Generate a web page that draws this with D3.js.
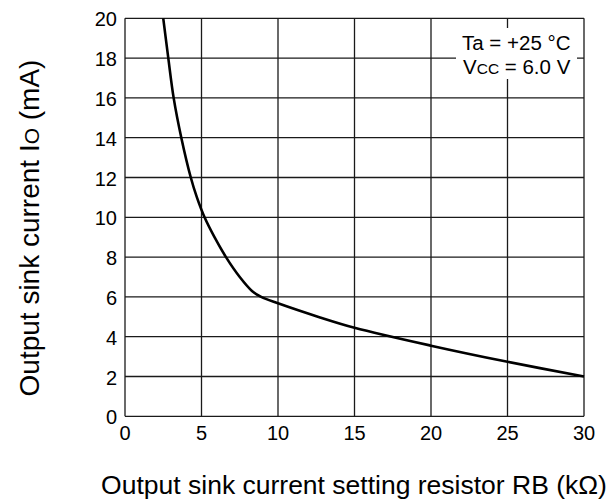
<!DOCTYPE html>
<html>
<head>
<meta charset="utf-8">
<script src="https://cdn.jsdelivr.net/npm/d3@7"></script>
<style>
  body { margin: 0; background: #fff; }
  text { font-family: "Liberation Sans", Arial, sans-serif; fill: #000; }
</style>
</head>
<body>
<div id="chart"></div>
<script>
// curve: resistor RB (kOhm) vs sink current IO (mA)
const resistance = [2.5, 2.83, 3.18, 3.68, 4.3, 4.7, 5.2, 5.85, 6.6, 7.5, 8.3, 8.9, 10, 12.75, 15, 20, 25, 30];
const current = [20, 18, 16, 14, 12, 11, 10, 9, 8, 7, 6.3, 6, 5.68, 4.97, 4.45, 3.55, 2.74, 2.0];
const xTicks = [0, 5, 10, 15, 20, 25, 30];
const yTicks = [0, 2, 4, 6, 8, 10, 12, 14, 16, 18, 20];
const noteLines = ['Ta = +25 °C', 'Vcc = 6.0 V'];

const W = 610, H = 502;
const margin = { top: 18.3, right: 26, bottom: 85.7, left: 125 };

const svg = d3.select('#chart').append('svg')
  .attr('width', W)
  .attr('height', H);

const x = d3.scaleLinear().domain([0, 30]).range([margin.left, W - margin.right]);
const y = d3.scaleLinear().domain([0, 20]).range([H - margin.bottom, margin.top]);

const gridColor = '#1a1a1a';

// grid (also forms the frame)
svg.append('g').selectAll('line').data(xTicks).join('line')
  .attr('x1', d => x(d)).attr('x2', d => x(d))
  .attr('y1', y(0)).attr('y2', y(20))
  .attr('stroke', gridColor).attr('stroke-width', 1.3);

svg.append('g').selectAll('line').data(yTicks).join('line')
  .attr('x1', x(0)).attr('x2', x(30))
  .attr('y1', d => y(d)).attr('y2', d => y(d))
  .attr('stroke', gridColor).attr('stroke-width', 1.3);

// tick labels
svg.append('g').selectAll('text').data(xTicks).join('text')
  .attr('x', d => x(d))
  .attr('y', y(0) + 24)
  .attr('text-anchor', 'middle')
  .style('font-size', '20px')
  .text(d => d);

svg.append('g').selectAll('text').data(yTicks).join('text')
  .attr('x', x(0) - 8)
  .attr('y', d => y(d) + 8)
  .attr('text-anchor', 'end')
  .style('font-size', '20px')
  .text(d => d);

// condition note, white box hides the grid behind it
svg.append('rect')
  .attr('x', 456).attr('y', 28)
  .attr('width', 121).attr('height', 51)
  .attr('fill', '#fff');

const note1 = svg.append('text').attr('x', 462).attr('y', 49.5).style('font-size', '20.5px');
note1.text(noteLines[0]);

const note2 = svg.append('text').attr('x', 463).attr('y', 73.5).style('font-size', '20.5px');
note2.append('tspan').text('V');
note2.append('tspan').style('font-size', '15.5px').text('CC');
note2.append('tspan').text(noteLines[1].slice(3));

// the curve
const pts = resistance.map((r, i) => [r, current[i]]);
const line = d3.line()
  .x(d => x(d[0]))
  .y(d => y(d[1]))
  .curve(d3.curveCatmullRom.alpha(0.5));

svg.append('path')
  .datum(pts)
  .attr('d', line)
  .attr('fill', 'none')
  .attr('stroke', '#000')
  .attr('stroke-width', 2.6);

// axis titles
svg.append('text')
  .attr('x', 354)
  .attr('y', 494)
  .attr('text-anchor', 'middle')
  .style('font-size', '26.5px')
  .text('Output sink current setting resistor RB (kΩ)');

const yTitle = svg.append('text')
  .attr('transform', 'translate(39,228) rotate(-90)')
  .attr('text-anchor', 'middle')
  .style('font-size', '28px');
yTitle.append('tspan').text('Output sink current I');
yTitle.append('tspan').style('font-size', '21px').text('O');
yTitle.append('tspan').text(' (mA)');
</script>
</body>
</html>
